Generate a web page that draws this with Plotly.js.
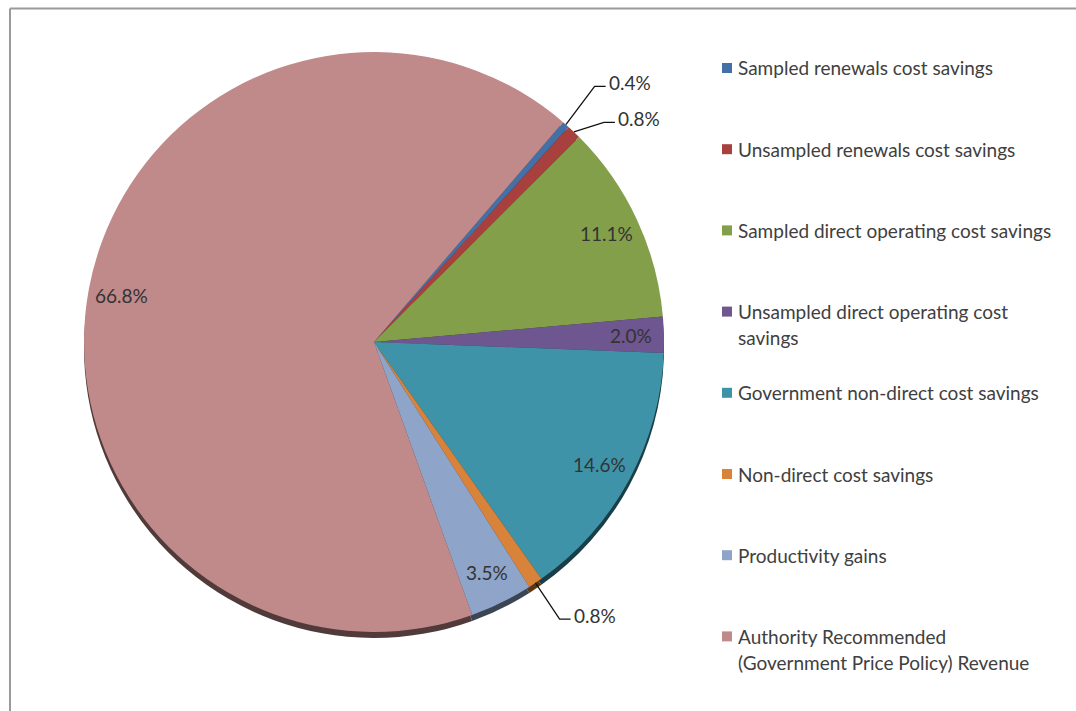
<!DOCTYPE html>
<html>
<head>
<meta charset="utf-8">
<script src="https://cdn.plot.ly/plotly-3.0.1.min.js"></script>
<style>
html,body{margin:0;padding:0;background:#fff;}
#chart{width:1076px;height:711px;}
</style>
</head>
<body>
<div id="chart"></div>
<script>
// ---- data ----
const categories = [
  "Sampled renewals cost savings",
  "Unsampled renewals cost savings",
  "Sampled direct operating cost savings",
  "Unsampled direct operating cost savings",
  "Government non-direct cost savings",
  "Non-direct cost savings",
  "Productivity gains",
  "Authority Recommended (Government Price Policy) Revenue"
];
const shares = [0.4, 0.8, 11.1, 2.0, 14.6, 0.8, 3.5, 66.8];
const percentLabels = ["0.4%", "0.8%", "11.1%", "2.0%", "14.6%", "0.8%", "3.5%", "66.8%"];
const colors = ["#4470A8", "#A8403D", "#839F4A", "#6E5690", "#3F93A8", "#D8823A", "#8EA4C8", "#C0898A"];

// ---- layout constants ----
const W = 1076, H = 711;
const cx = 374, cy = 342, R = 290;
const rotation = 40.7;
const FONT = "Lato, 'Open Sans', sans-serif";
const FS = 19;
const shadowDrop = 6;

function px(x){ return x / W; }
function py(y){ return 1 - y / H; }
function darken(hex, f){
  const n = parseInt(hex.slice(1), 16);
  const r = Math.round(((n >> 16) & 255) * f), g = Math.round(((n >> 8) & 255) * f), b = Math.round((n & 255) * f);
  return "rgb(" + r + "," + g + "," + b + ")";
}

const domainMain = {x: [px(cx - R), px(cx + R)], y: [py(cy + R), py(cy - R)]};
const domainShadow = {x: [px(cx - R), px(cx + R)], y: [py(cy + R + shadowDrop), py(cy - R + shadowDrop)]};

const shadowTrace = {
  type: "pie", values: shares, labels: categories, sort: false, direction: "clockwise",
  rotation: rotation, domain: domainShadow, textinfo: "none", hoverinfo: "skip", showlegend: false,
  marker: {colors: colors.map(c => darken(c, 0.42)), line: {width: 0}}
};
const mainTrace = {
  type: "pie", values: shares, labels: categories, sort: false, direction: "clockwise",
  rotation: rotation, domain: domainMain, textinfo: "none", hoverinfo: "label+percent", showlegend: false,
  marker: {colors: colors, line: {width: 0}}
};

// ---- percent labels ----
const total = shares.reduce((a, b) => a + b, 0);
const annotations = [];
const shapes = [];
let cum = 0;
const outside = [];
shares.forEach((v, i) => {
  const mid = (cum + v / 2) / total;
  cum += v;
  const a = (rotation + 360 * mid) * Math.PI / 180;
  const sx = Math.sin(a), sy = -Math.cos(a);
  if (v >= 2) {
    const rr = 0.885 * R;
    annotations.push({
      xref: "paper", yref: "paper", x: px(cx + rr * sx), y: py(cy + rr * sy),
      text: percentLabels[i], showarrow: false, xanchor: "center", yanchor: "middle",
      font: {family: FONT, size: FS, color: "#333333"}
    });
  } else {
    const ex = cx + R * sx, ey = cy + R * sy;
    const rr = 1.15 * R;
    outside.push({i: i, ex: ex, ey: ey, bx: cx + rr * sx, by: cy + rr * sy});
  }
});
// spread overlapping outside labels vertically
outside.sort((p, q) => p.by - q.by);
const gap = 36;
for (let k = 1; k < outside.length; k++) {
  const p = outside[k - 1], q = outside[k];
  const d = gap - (q.by - p.by);
  if (d > 0) { p.by -= 0.2 * d; q.by += 0.8 * d; }
}
outside.forEach(o => {
  const tx = o.bx + 11;
  shapes.push({
    type: "path", xref: "paper", yref: "paper",
    path: "M " + px(o.ex) + "," + py(o.ey) + " L " + px(o.bx) + "," + py(o.by) + " L " + px(tx) + "," + py(o.by),
    line: {color: "#111111", width: 1.3}
  });
  annotations.push({
    xref: "paper", yref: "paper", x: px(tx + 1), y: py(o.by - 4),
    text: percentLabels[o.i], showarrow: false, xanchor: "left", yanchor: "middle",
    font: {family: FONT, size: FS, color: "#333333"}
  });
});

// ---- legend (built from categories/colors) ----
const canvas = document.createElement("canvas");
const ctx = canvas.getContext("2d");
ctx.font = FS + "px Lato";
function wrap(text, maxW){
  const words = text.split(" ");
  const lines = [];
  let line = "";
  words.forEach(w => {
    const t = line ? line + " " + w : w;
    if (ctx.measureText(t).width > maxW && line) { lines.push(line); line = w; }
    else line = t;
  });
  if (line) lines.push(line);
  return lines;
}
const legTop = 68, legStep = 81.2, lineGap = 26, legX = 722, sq = 10;
categories.forEach((c, i) => {
  const y0 = legTop + i * legStep;
  shapes.push({
    type: "rect", xref: "paper", yref: "paper",
    x0: px(legX), x1: px(legX + sq), y0: py(y0 - sq / 2), y1: py(y0 + sq / 2),
    fillcolor: colors[i], line: {width: 0}
  });
  wrap(c, 317).forEach((ln, k) => {
    annotations.push({
      xref: "paper", yref: "paper", x: px(legX + 14), y: py(y0 + k * lineGap),
      text: ln, showarrow: false, xanchor: "left", yanchor: "middle",
      font: {family: FONT, size: FS, color: "#404040"}
    });
  });
});

// ---- frame (top and left edges) ----
shapes.push({type: "line", xref: "paper", yref: "paper", x0: px(10), x1: 1.01, y0: py(8.5), y1: py(8.5), line: {color: "#9a9a9a", width: 2}});
shapes.push({type: "line", xref: "paper", yref: "paper", x0: px(10), x1: px(10), y0: py(8.5), y1: -0.01, line: {color: "#9a9a9a", width: 2}});

const layout = {
  width: W, height: H,
  margin: {l: 0, r: 0, t: 0, b: 0},
  paper_bgcolor: "#ffffff",
  showlegend: false,
  annotations: annotations,
  shapes: shapes,
  font: {family: FONT}
};

Plotly.newPlot("chart", [shadowTrace, mainTrace], layout, {displayModeBar: false, staticPlot: true});
</script>
</body>
</html>
